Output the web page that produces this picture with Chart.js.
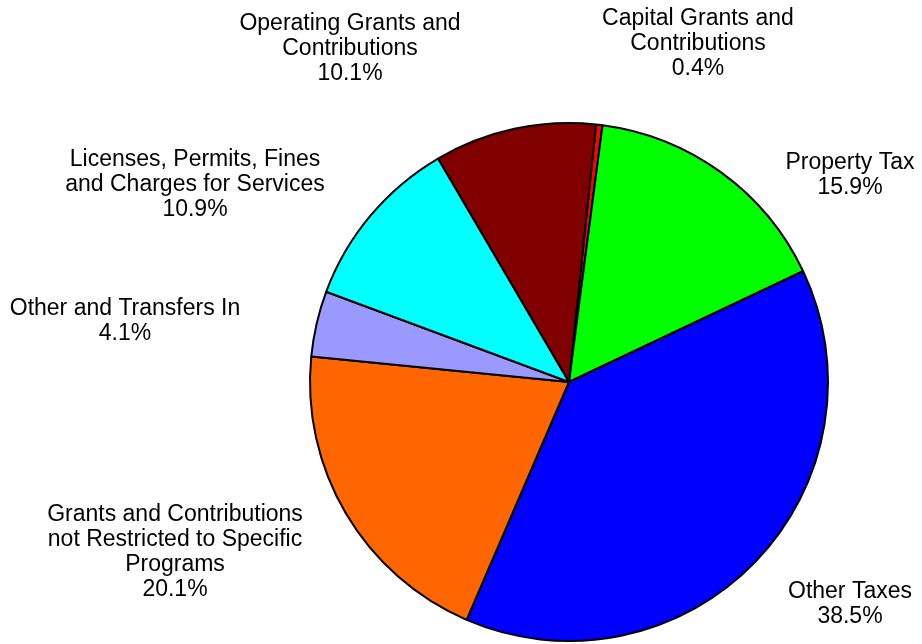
<!DOCTYPE html>
<html>
<head>
<meta charset="utf-8">
<script src="https://cdn.jsdelivr.net/npm/chart.js@4.4.1/dist/chart.umd.min.js"></script>
<style>
    body { margin: 0; background: #fff; }
    #wrap { width: 922px; height: 644px; }
</style>
</head>
<body>
<div id="wrap"><canvas id="pie" width="922" height="644"></canvas></div>
<script>
// data, clockwise from the top
const labels = [
    ['Capital Grants and', 'Contributions'],
    ['Property Tax'],
    ['Other Taxes'],
    ['Grants and Contributions', 'not Restricted to Specific', 'Programs'],
    ['Other and Transfers In'],
    ['Licenses, Permits, Fines', 'and Charges for Services'],
    ['Operating Grants and', 'Contributions']
];
const shares = [0.4, 15.9, 38.5, 20.1, 4.1, 10.9, 10.1];
const colors = ['#ff0000', '#00ff00', '#0000ff', '#ff6600', '#9999ff', '#00ffff', '#800000'];

// where each label block sits, offset from the pie centre (px)
const labelOffsets = [
    [129, -338], [281, -207], [281, 222], [-394, 170],
    [-444, -61], [-374, -197], [-219, -333]
];

const labelPlugin = {
    id: 'outsideLabels',
    afterDraw(chart) {
        const c = chart.ctx;
        const arc = chart.getDatasetMeta(0).data[0];
        c.save();
        c.font = '23px "Liberation Sans", Arial, sans-serif';
        c.fillStyle = '#000';
        c.textAlign = 'center';
        c.textBaseline = 'middle';
        const lh = 25;
        labels.forEach((lbl, i) => {
            const lines = lbl.concat([shares[i].toFixed(1) + '%']);
            const cx = arc.x + labelOffsets[i][0];
            const cy = arc.y + labelOffsets[i][1];
            const top = cy - (lines.length - 1) * lh / 2;
            lines.forEach((t, j) => c.fillText(t, cx, top + j * lh));
        });
        c.restore();
    }
};

new Chart(document.getElementById('pie'), {
    type: 'pie',
    data: {
        labels: labels.map(l => l.join(' ')),
        datasets: [{
            data: shares,
            backgroundColor: colors,
            borderColor: '#000',
            borderWidth: 2
        }]
    },
    options: {
        responsive: false,
        animation: false,
        rotation: 6,
        layout: { padding: { left: 309, right: 93, top: 122, bottom: 2 } },
        plugins: { legend: { display: false }, tooltip: { enabled: false } }
    },
    plugins: [labelPlugin]
});
</script>
</body>
</html>
